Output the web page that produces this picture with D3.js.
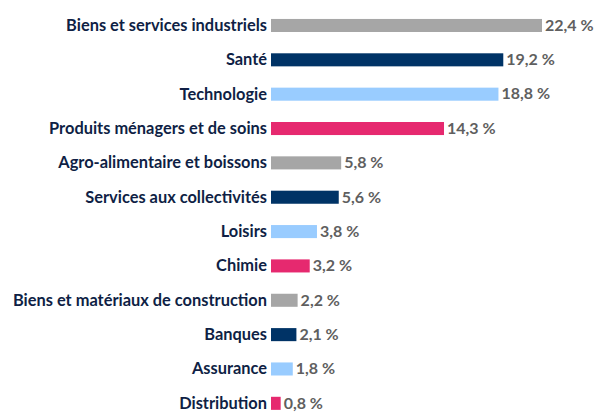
<!DOCTYPE html>
<html><head><meta charset="utf-8">
<script src="https://cdn.jsdelivr.net/npm/d3@7"></script>
<style>
html,body{margin:0;padding:0;background:#fff;}
svg{display:block;}
</style></head>
<body>
<script>
// Sector weights (%)
const categories = [
  "Biens et services industriels", "Santé", "Technologie",
  "Produits ménagers et de soins", "Agro-alimentaire et boissons",
  "Services aux collectivités", "Loisirs", "Chimie",
  "Biens et matériaux de construction", "Banques", "Assurance", "Distribution"
];
const values = [22.4, 19.2, 18.8, 14.3, 5.8, 5.6, 3.8, 3.2, 2.2, 2.1, 1.8, 0.8];
const palette = ["#a6a6a6", "#003366", "#99ccff", "#e6296f"];

const W = 595, H = 412;
const svg = d3.select("body").append("svg").attr("width", W).attr("height", H);

const x0 = 271;
const x = d3.scaleLinear().domain([0, 22.4]).range([x0, 542]);
const y = d3.scaleBand().domain(categories).range([8.3, 420.5]).paddingInner(0.62).paddingOuter(0.31);

const fmt = v => d3.format(".1f")(v).replace(".", ",") + " %";

const rows = svg.selectAll("g.row").data(categories).join("g").attr("class", "row");

rows.append("rect")
  .attr("x", x0)
  .attr("y", d => y(d))
  .attr("width", (d, i) => x(values[i]) - x0)
  .attr("height", y.bandwidth())
  .attr("fill", (d, i) => palette[i % 4]);

rows.append("text")
  .attr("x", x0 - 4)
  .attr("y", d => y(d) + y.bandwidth() / 2)
  .attr("dy", "0.33em")
  .attr("text-anchor", "end")
  .attr("font-family", "Lato, 'Open Sans', sans-serif")
  .attr("font-weight", 700)
  .attr("font-size", 16.4)
  .attr("fill", "#0f1f45")
  .text(d => d);

rows.append("text")
  .attr("x", (d, i) => x(values[i]) + 3)
  .attr("y", d => y(d) + y.bandwidth() / 2)
  .attr("dy", "0.33em")
  .attr("font-family", "Lato, 'Open Sans', sans-serif")
  .attr("font-weight", 700)
  .attr("font-size", 16)
  .attr("fill", "#5f5f5f")
  .text((d, i) => fmt(values[i]));
</script>
</body></html>
